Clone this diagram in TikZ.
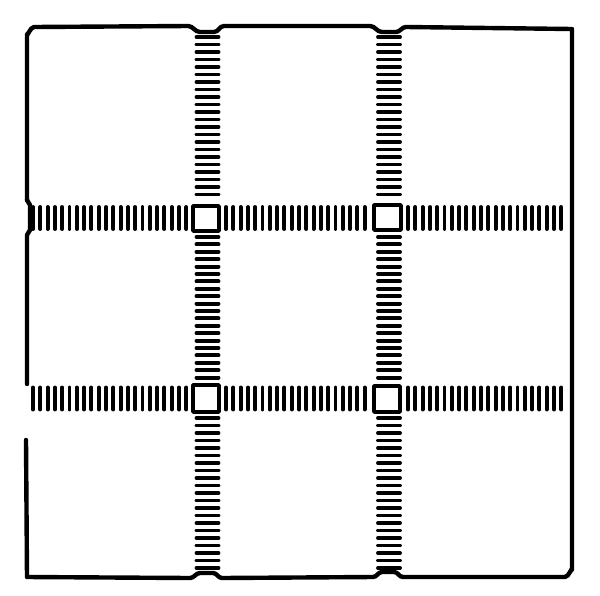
\documentclass[tikz,border=0pt]{standalone}
\begin{document}
\begin{tikzpicture}[x=1pt,y=-1pt,
  outline/.style={line width=4.4pt,line cap=round,line join=round},
  hatch/.style={line width=3.9pt,line cap=round},
  crossing/.style={line width=3.6pt,line join=round}]
\useasboundingbox (0,0) rectangle (600,595);
% outer frame
\draw[outline] (27,200) -- (27,34) to[out=-90,in=180] (34,27) -- (188,26)
  to[out=0,in=180] (200,32) -- (214,32) to[out=0,in=180] (224,26)
  -- (370,26) to[out=0,in=180] (382,32) -- (396,32) to[out=0,in=180] (406,27)
  -- (572,29) -- (572,570) to[out=90,in=0] (565,577) -- (403,577)
  to[out=180,in=0] (394,572) -- (382,572) to[out=180,in=0] (373,577)
  -- (222,578) to[out=180,in=0] (213,573) -- (200,573) to[out=180,in=0] (190,578)
  -- (27,577) -- (26,440);
\draw[outline] (27,200) -- (30,205) -- (30,230) -- (27,235) -- (27,384);
% vertical bands (horizontal dashes)
\foreach \x in {207.5,389} {
  \foreach \y in {37,44.5,...,200} \draw[hatch] (\x-11,\y) -- (\x+11,\y);
  \foreach \y in {237,244.4,...,381} \draw[hatch] (\x-11,\y) -- (\x+11,\y);
  \foreach \y in {418,425.5,...,570} \draw[hatch] (\x-11,\y) -- (\x+11,\y);
}
% horizontal bands (vertical dashes)
\foreach \y in {218,398.5} {
  \foreach \x in {33,40.3,...,188} \draw[hatch] (\x,\y-11) -- (\x,\y+11);
  \foreach \x in {226,233.3,...,370} \draw[hatch] (\x,\y-11) -- (\x,\y+11);
  \foreach \x in {408,415.3,...,568} \draw[hatch] (\x,\y-11) -- (\x,\y+11);
}
% crossings
\draw[crossing] (193,206) rectangle (219,231);
\draw[crossing] (374,205) rectangle (401,230);
\draw[crossing] (193,385) rectangle (219,412);
\draw[crossing] (374,386) rectangle (400,412);
\end{tikzpicture}
\end{document}
